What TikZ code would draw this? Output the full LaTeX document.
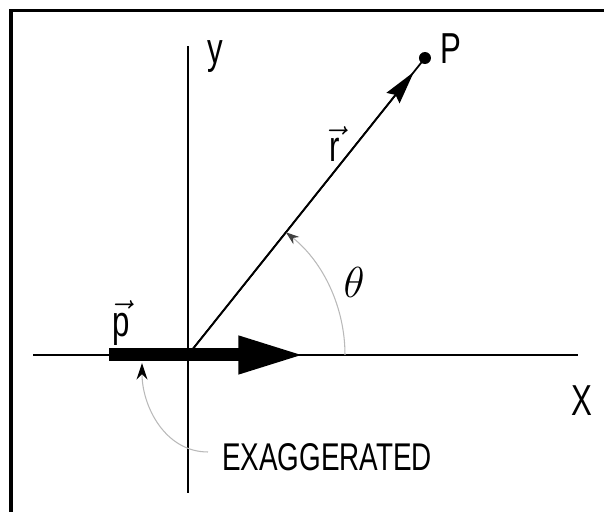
\documentclass[tikz,border=0pt]{standalone}
\usepackage{fix-cm}
\usepackage{fontspec}
\setmainfont{Liberation Sans}[FakeStretch=0.72]
\usetikzlibrary{arrows.meta,calc}

\begin{document}
\begin{tikzpicture}[
        scale=0.03,
        axis/.style={
            line width=1.2pt,
            black
        },
        lbl/.style={
            inner sep=0pt,
            font=\fontsize{37}{40}\selectfont
        },
        guide/.style={
            gray!55,
            line width=0.9pt
        }
    ]
        \useasboundingbox (-188,-157) rectangle (416,355);

        % Cornice (solo lato sinistro e superiore visibili)
        \draw[line width=0.1cm] (-177,-170) -- (-177,344.5) -- (430,344.5);

        % Punti di riferimento
        \coordinate (O) at (0,0);
        \coordinate (P) at (237,297);
        \coordinate (xleft) at (-155,0);
        \coordinate (xright) at (390,0);
        \coordinate (ybot) at (0,-138);
        \coordinate (ytop) at (0,309);
        \coordinate (pstart) at (-79,0);
        \coordinate (ptip) at (117,0);

        % Assi
        \draw[axis] (xleft) -- (xright);
        \draw[axis] (ybot) -- (ytop);

        % Vettore p (esagerato)
        \draw[line width=0.39cm, -{Triangle[length=2cm,width=1.05cm]}] (pstart) -- (ptip);

        % Vettore r verso P
        \draw[line width=1.5pt] (O) -- (P);
        \draw[line width=1.5pt, -{Stealth[length=1cm,width=0.5cm,inset=0.12cm]}] (O) -- ($(O)!0.953!(P)$);
        \node[circle, fill=black, inner sep=0pt, minimum size=0.36cm] (Pdot) at (P) {};

        % Angolo theta
        \draw[guide, -{Stealth[darkgray,length=0.4cm,width=0.28cm]}]
            ($(O)+(157,0)$) arc[start angle=0, end angle=51.4, radius=157];

        % Etichette
        \node[lbl] (ylbl) at (27,298) {y};
        \node[lbl] (Plbl) at (263,306) {P};
        \node[lbl] (rlbl) at (147,211) {$\vec{\mbox{r}}$};
        \node[lbl] (plbl) at (-67,32) {$\vec{\mbox{p}}$};
        \node[lbl] (thlbl) at (166,73) {$\theta$};
        \node[lbl] (xlbl) at (394,-46) {X};
        \node[lbl, font=\fontsize{33}{36}\selectfont] (exag) at (139,-102) {EXAGGERATED};

        % Freccia curva verso p
        \coordinate (exstart) at (20,-97);
        \coordinate (exend) at (-46,-8);
        \draw[guide, -{Stealth[black,length=0.5cm,width=0.33cm]}]
            (exstart) .. controls ($(exstart)+(-43,0)$) and ($(exend)+(0,-43)$) .. (exend);
    \end{tikzpicture}
\end{document}
